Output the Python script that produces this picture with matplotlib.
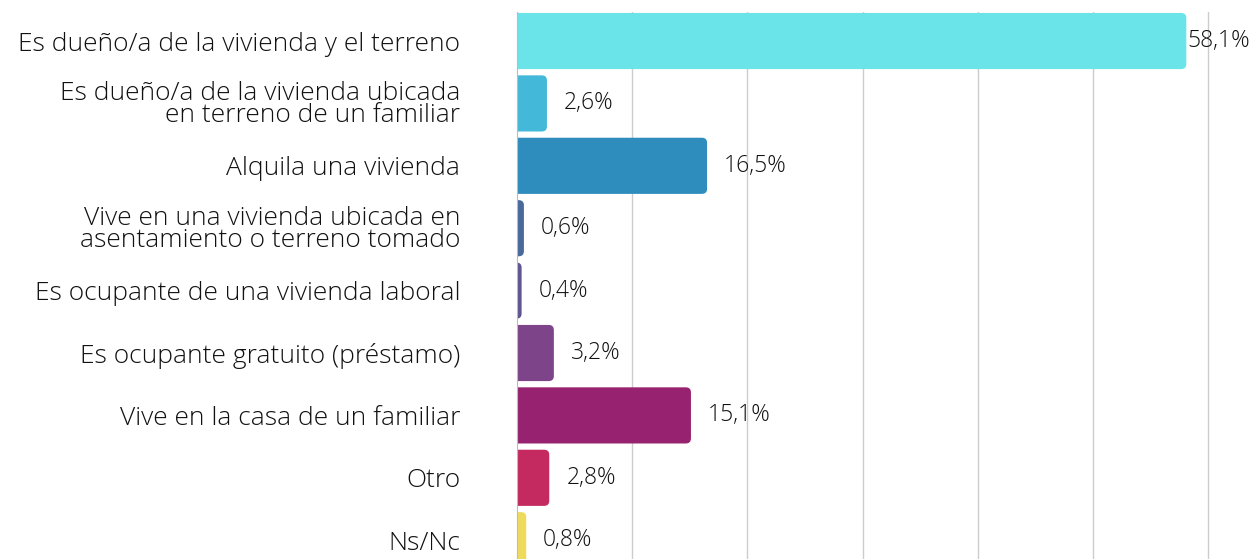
import matplotlib.pyplot as plt
from matplotlib.patches import FancyBboxPatch

categories = [
    "Es dueño/a de la vivienda y el terreno",
    "Es dueño/a de la vivienda ubicada\nen terreno de un familiar",
    "Alquila una vivienda",
    "Vive en una vivienda ubicada en\nasentamiento o terreno tomado",
    "Es ocupante de una vivienda laboral",
    "Es ocupante gratuito (préstamo)",
    "Vive en la casa de un familiar",
    "Otro",
    "Ns/Nc",
]
values = [58.1, 2.6, 16.5, 0.6, 0.4, 3.2, 15.1, 2.8, 0.8]
labels = ["58,1%", "2,6%", "16,5%", "0,6%", "0,4%", "3,2%", "15,1%", "2,8%", "0,8%"]
colors = ["#6BE4E9", "#44B8D9", "#2E8DBD", "#4A6A9C", "#5E5591",
          "#7D4489", "#97226F", "#C42A5F", "#EEDB5C"]

plt.rcParams["font.family"] = ["Open Sans", "DejaVu Sans"]
plt.rcParams["font.weight"] = "light"

fig = plt.figure(figsize=(12.56, 5.59), dpi=100)
ax = fig.add_axes([517 / 1256, 0, 1 - 517 / 1256, (559 - 12) / 559])

bar_h = 0.9
for i, (v, c) in enumerate(zip(values, colors)):
    box = FancyBboxPatch((-1, i - bar_h / 2), v + 1, bar_h,
                         boxstyle="round,pad=0,rounding_size=0.45",
                         mutation_aspect=0.18, facecolor=c, edgecolor="none",
                         zorder=3)
    ax.add_patch(box)
    off = 1 if i == 0 else 17
    ax.annotate(labels[i], (v, i), xytext=(off, 0), textcoords="offset pixels",
                va="center", ha="left", fontsize=16.5, color="#111111", zorder=4)

ax.set_xlim(0, (1256 - 517) / 11.52)
ax.set_ylim((559 - 41) / 62.4, -0.465)
ax.set_xticks(range(10, 70, 10))
ax.set_xticklabels([])
ax.tick_params(axis="x", length=0)
ax.grid(axis="x", color="#cccccc", lw=1, zorder=0)

ax.set_yticks(range(len(categories)))
ax.set_yticklabels(categories, fontsize=19, color="#111111", linespacing=0.82)
ax.tick_params(axis="y", length=0, pad=41)

for s in ["top", "right", "bottom"]:
    ax.spines[s].set_visible(False)
ax.spines["left"].set_color("#bbbbbb")
ax.spines["left"].set_zorder(5)

fig.savefig("out.png", dpi=100)
